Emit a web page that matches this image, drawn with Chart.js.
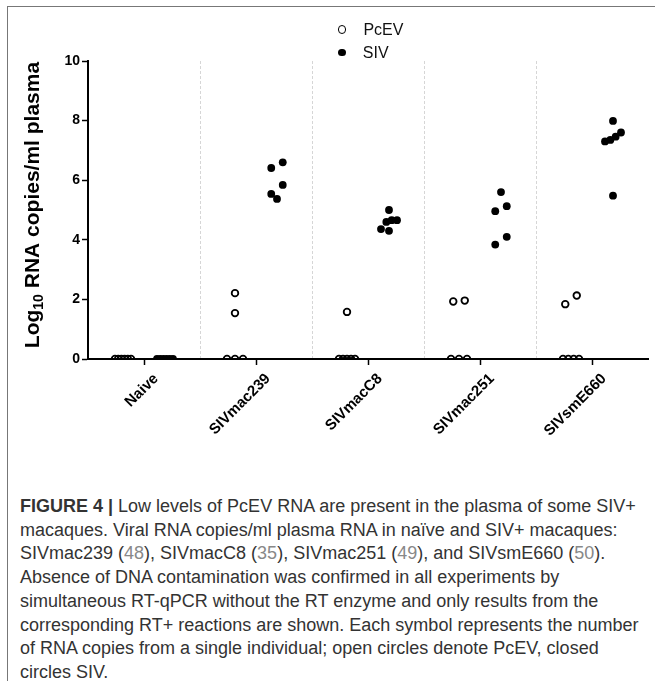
<!DOCTYPE html>
<html>
<head>
<meta charset="utf-8">
<script src="https://cdn.jsdelivr.net/npm/chart.js@4.4.1/dist/chart.umd.min.js"></script>
<style>
    body { margin: 0; background: #fff; }
    #figure { position: relative; width: 655px; height: 681px; overflow: hidden; font-family: 'Liberation Sans', Arial, sans-serif; }
    #frame { position: absolute; left: 7px; top: 6px; width: 660px; height: 700px; border-left: 1px solid #777; border-top: 1px solid #777; }
    #chart-box { position: absolute; left: 0; top: 0; width: 655px; height: 470px; }
    #legend { position: absolute; left: 338px; top: 18px; font-size: 16px; color: #111; }
    #legend .item { display: flex; align-items: center; height: 23px; }
    #legend .dot { box-sizing: border-box; border-radius: 50%; margin-right: 17px; }
    #caption { position: absolute; left: 20px; top: 495px; font-size: 18px; line-height: 23.7px; color: #333; white-space: nowrap; }
    #caption .ref { color: #888; }
</style>
</head>
<body>
<div id="figure">
    <div id="frame"></div>
    <div id="chart-box"><canvas id="chart"></canvas></div>
    <div id="legend"></div>
    <div id="caption">
        <b>FIGURE 4 |</b> Low levels of PcEV RNA are present in the plasma of some SIV+<br>
        macaques. Viral RNA copies/ml plasma RNA in naïve and SIV+ macaques:<br>
        SIVmac239 (<span class="ref">48</span>), SIVmacC8 (<span class="ref">35</span>), SIVmac251 (<span class="ref">49</span>), and SIVsmE660 (<span class="ref">50</span>).<br>
        Absence of DNA contamination was confirmed in all experiments by<br>
        simultaneous RT-qPCR without the RT enzyme and only results from the<br>
        corresponding RT+ reactions are shown. Each symbol represents the number<br>
        of RNA copies from a single individual; open circles denote PcEV, closed<br>
        circles SIV.
    </div>
</div>
<script>
const categories = ['Naive', 'SIVmac239', 'SIVmacC8', 'SIVmac251', 'SIVsmE660'];
const yTicks = [0, 2, 4, 6, 8, 10];

// log10 copies/ml, one list per group
const pcevValues = [
    [0, 0, 0, 0, 0, 0],
    [2.21, 1.54, 0, 0, 0],
    [1.58, 0, 0, 0, 0, 0],
    [1.96, 1.93, 0, 0, 0],
    [2.13, 1.84, 0, 0, 0, 0],
];
const sivValues = [
    [0, 0, 0, 0, 0, 0],
    [6.6, 6.41, 5.84, 5.54, 5.37],
    [5.0, 4.66, 4.66, 4.6, 4.36, 4.3],
    [5.6, 5.13, 4.96, 4.1, 3.84],
    [7.99, 7.6, 7.46, 7.35, 7.3, 5.48],
];

const groupShift = 0.1875;
const separators = categories.slice(1).map((_, i) => i + 0.5);

function pointsFor(groups, shift) {
    return groups.flatMap((values, i) => values.map((y) => ({ x: i + shift, y })));
}

// lay the dots of one group out in rows, like a column scatter plot
function swarm(values, center, xScale, yScale) {
    const unit = xScale.getPixelForValue(1) - xScale.getPixelForValue(0);
    const order = values.map((_, i) => i).sort((a, b) => values[b] - values[a]);
    const rows = [];

    order.forEach((i) => {
        const py = yScale.getPixelForValue(values[i]);
        const row = rows[rows.length - 1];

        if (row && py - row.top <= 9) {
            row.items.push(i);
        } else {
            rows.push({ top: py, items: [i] });
        }
    });

    const xs = [];

    rows.forEach((row) => {
        const n = row.items.length;
        const gap = n > 1 ? Math.min(11.5, 16 / (n - 1)) : 0;

        row.items.slice().reverse().forEach((i, k) => {
            xs[i] = center + ((k - (n - 1) / 2) * gap) / unit;
        });
    });

    return xs;
}

const yTitlePlugin = {
    id: 'yTitle',
    afterDraw(chart) {
        const { ctx, chartArea } = chart;
        const parts = [
            { text: 'Log', font: 'bold 21px "Liberation Sans", Arial', dy: 0 },
            { text: '10', font: 'bold 14px "Liberation Sans", Arial', dy: 4 },
            { text: ' RNA copies/ml plasma', font: 'bold 21px "Liberation Sans", Arial', dy: 0 },
        ];
        let total = 0;

        parts.forEach((part) => {
            ctx.font = part.font;
            part.width = ctx.measureText(part.text).width;
            total += part.width;
        });

        ctx.save();
        ctx.translate(39, (chartArea.top + chartArea.bottom) / 2 - 5);
        ctx.rotate(-Math.PI / 2);
        ctx.fillStyle = '#000';
        ctx.textBaseline = 'alphabetic';

        let x = -total / 2;

        parts.forEach((part) => {
            ctx.font = part.font;
            ctx.fillText(part.text, x, part.dy);
            x += part.width;
        });

        ctx.restore();
    },
};

const chart = new Chart(document.getElementById('chart'), {
    type: 'scatter',
    data: {
        datasets: [
            {
                label: 'PcEV',
                data: pointsFor(pcevValues, -groupShift),
                pointRadius: 3.3,
                pointBorderWidth: 1.8,
                pointBorderColor: '#000',
                pointBackgroundColor: 'rgba(255,255,255,0)',
            },
            {
                label: 'SIV',
                data: pointsFor(sivValues, groupShift),
                pointRadius: 3.9,
                pointBorderWidth: 0,
                pointBorderColor: '#000',
                pointBackgroundColor: '#000',
            },
        ],
    },
    options: {
        responsive: true,
        maintainAspectRatio: false,
        animation: false,
        events: [],
        layout: { padding: { left: 0, top: 61, right: 7, bottom: 0 } },
        plugins: {
            legend: { display: false },
            tooltip: { enabled: false },
        },
        scales: {
            x: {
                type: 'linear',
                min: -0.5,
                max: 4.5,
                afterFit: (scale) => { scale.height = 111; },
                afterBuildTicks: (scale) => { scale.ticks = categories.map((_, i) => ({ value: i })); },
                border: { color: '#000', width: 2 },
                grid: { drawOnChartArea: false, tickLength: 6, tickColor: '#000', tickWidth: 1.5 },
                ticks: {
                    callback: (value) => categories[value],
                    minRotation: 45,
                    maxRotation: 45,
                    padding: 5,
                    labelOffset: 12,
                    color: '#000',
                    font: { family: '"Liberation Sans", Arial', size: 15, weight: 'bold' },
                },
            },
            sep: {
                type: 'linear',
                position: 'top',
                min: -0.5,
                max: 4.5,
                afterFit: (scale) => { scale.height = 0; },
                afterBuildTicks: (scale) => { scale.ticks = separators.map((value) => ({ value })); },
                border: { display: false, dash: [3, 2] },
                grid: { color: '#d6d6d6', lineWidth: 1, drawTicks: false },
                ticks: { display: false },
            },
            y: {
                min: 0,
                max: 10,
                afterFit: (scale) => { scale.width = 88; },
                afterBuildTicks: (scale) => { scale.ticks = yTicks.map((value) => ({ value })); },
                border: { color: '#000', width: 2 },
                grid: { drawOnChartArea: false, tickLength: 6, tickColor: '#000', tickWidth: 1.5 },
                ticks: {
                    padding: 2,
                    color: '#000',
                    font: { family: '"Liberation Sans", Arial', size: 14, weight: 'bold' },
                },
            },
        },
    },
    plugins: [yTitlePlugin],
});

[pcevValues, sivValues].forEach((groups, d) => {
    const shift = d === 0 ? -groupShift : groupShift;
    const xs = groups.flatMap((values, i) => swarm(values, i + shift, chart.scales.x, chart.scales.y));

    chart.data.datasets[d].data.forEach((point, k) => { point.x = xs[k]; });
});
chart.update('none');

const legend = document.getElementById('legend');

chart.data.datasets.forEach((dataset) => {
    const item = document.createElement('div');
    const dot = document.createElement('span');
    const size = (dataset.pointRadius + dataset.pointBorderWidth / 2) * 2;

    item.className = 'item';
    dot.className = 'dot';
    dot.style.width = `${size}px`;
    dot.style.height = `${size}px`;
    dot.style.border = `${dataset.pointBorderWidth}px solid ${dataset.pointBorderColor}`;
    dot.style.background = dataset.pointBackgroundColor;
    item.append(dot, dataset.label);
    legend.append(item);
});
</script>
</body>
</html>
